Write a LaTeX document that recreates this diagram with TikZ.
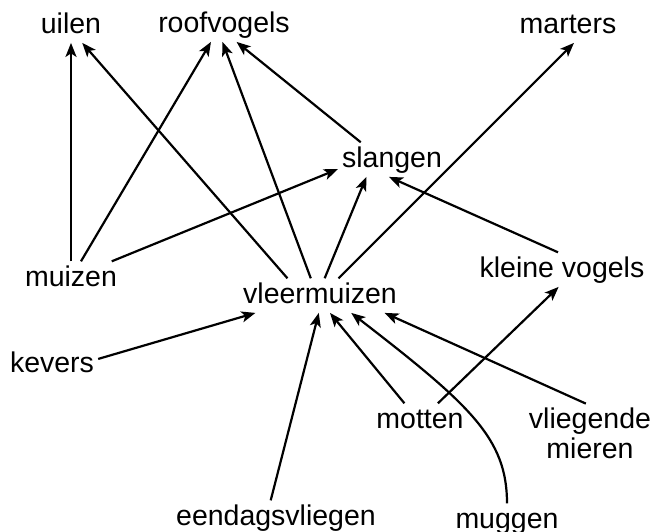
\documentclass[tikz,border=0pt]{standalone}
\usepackage{fontspec}
\setmainfont{Liberation Sans}
\usetikzlibrary{arrows.meta}

\begin{document}
\begin{tikzpicture}[
x=1pt, y=-1pt,
lbl/.style={inner sep=4pt, font=\fontsize{28.5}{30}\selectfont},
word/.style={lbl, anchor=base, text height=20.5pt, text depth=5.7pt},
link/.style={-{Stealth[length=14pt, width=11pt, inset=3.5pt]}, line width=2.2pt}
]
\useasboundingbox (0,0) rectangle (656,531);

\node[word] (uilen) at (71,33) {uilen};
\node[word] (roofvogels) at (224,32) {roofvogels};
\node[word] (marters) at (568,33) {marters};
\node[word] (slangen) at (392,167) {slangen};
\node[word] (muizen) at (71,286) {muizen};
\node[word] (kvogels) at (562,277) {kleine vogels};
\node[word] (vleermuizen) at (320,303) {vleermuizen};
\node[word] (kevers) at (52,372) {kevers};
\node[word] (motten) at (420,428) {motten};
\node[lbl, align=center, anchor=north] (mieren) at (590,403.6) {vliegende\\mieren};
\node[word] (eendags) at (276,525) {eendagsvliegen};
\node[word] (muggen) at (507,528) {muggen};

\draw[link] (muizen) -- (uilen);
\draw[link] (muizen.60) -- (roofvogels.-127);
\draw[link] (muizen.23) -- (slangen.-170);
\draw[link] (vleermuizen.152) -- (uilen.-57);
\draw[link] (vleermuizen.118) -- (roofvogels.-95);
\draw[link] (slangen.151) -- (roofvogels.-54);
\draw[link] (vleermuizen.75) -- (slangen.-146);
\draw[link] (vleermuizen.43) -- (marters.-71);
\draw[link] (kvogels.103) -- (slangen.-100);
\draw[link] (kevers.7) -- (vleermuizen.-165);
\draw[link] (eendags.107) -- (vleermuizen.-94);
\draw[link] (motten.132) -- (vleermuizen.-60);
\draw[link] (muggen.north) .. controls +(0,-65) and +(119,92) .. (vleermuizen.-29);
\draw[link] (mieren.98) -- (vleermuizen.-15);
\draw[link] (motten.44) -- (kvogels.-101);

\end{tikzpicture}
\end{document}
